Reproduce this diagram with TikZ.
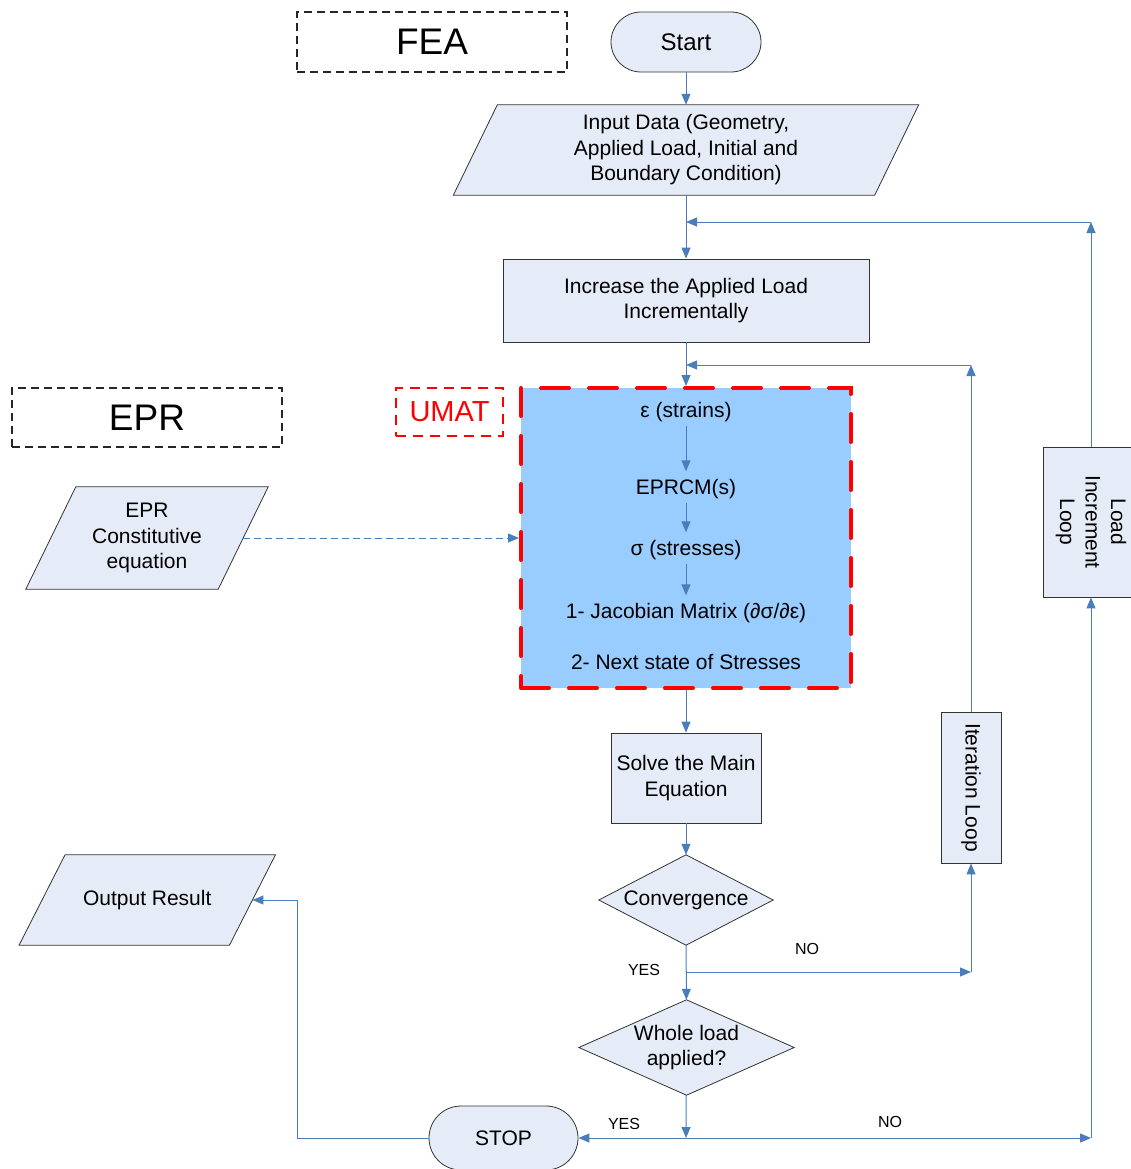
\documentclass[tikz,border=0pt]{standalone}
\usepackage{fontspec}
\setmainfont{Liberation Sans}
\usetikzlibrary{arrows.meta,backgrounds}
\definecolor{boxfill}{RGB}{230,236,247}
\definecolor{umatfill}{RGB}{153,204,255}
\definecolor{conn}{RGB}{74,126,187}
\definecolor{umred}{RGB}{255,0,0}
\begin{document}
\begin{tikzpicture}[x=1pt,y=-1pt,
  every node/.style={font=\fontsize{21}{25.5}\selectfont, inner sep=0pt},
  box/.style={draw=black!80, fill=boxfill, line width=0.8pt, align=center},
  shapefill/.style={draw=black!80, fill=boxfill, line width=0.8pt},
  txt/.style={align=center},
  ut/.style={inner xsep=0pt, inner ysep=3pt, text height=20pt, text depth=5pt},
  arr/.style={draw=conn, line width=1pt, -{Triangle[length=11pt,width=9pt]}},
  dbox/.style={draw=black!85, line width=1.3pt, dash pattern=on 8pt off 5pt, font=\fontsize{37}{40}\selectfont},
  lbl/.style={font=\fontsize{16}{19}\selectfont}
]
\useasboundingbox (0,0) rectangle (1131,1169);

% title boxes
\node[dbox, minimum width=270pt, minimum height=60pt] (fea) at (432,42) {FEA};
\node[dbox, minimum width=270pt, minimum height=59pt] (epr) at (147,417.5) {EPR};
\node[draw=umred, dash pattern=on 10pt off 7pt, line width=2.5pt, text=umred,
      minimum width=107pt, minimum height=48pt, font=\fontsize{29}{32}\selectfont] (umatlbl) at (449.5,412) {UMAT};

% main flow
\node[box, rounded corners=30pt, minimum width=150pt, minimum height=60pt, font=\fontsize{24}{28}\selectfont] (start) at (686,42) {Start};
\node[txt, minimum width=421pt, minimum height=90pt] (in) at (686,150) {Input Data (Geometry,\\Applied Load, Initial and\\Boundary Condition)};
\node[box, minimum width=366pt, minimum height=83pt] (inc) at (686,300.5) {Increase the Applied Load\\Incrementally};
\node[draw=umred, fill=umatfill, line width=4pt, dash pattern=on 28pt off 20pt, line cap=round,
      minimum width=330pt, minimum height=300pt] (umat) at (686,538) {};
\node[ut] (eps) at (686,410) {ε (strains)};
\node[ut] (eprcm) at (686,487) {EPRCM(s)};
\node[ut] (sig) at (686,548) {σ (stresses)};
\node[ut] (jac) at (686,611) {1- Jacobian Matrix (∂σ/∂ε)};
\node[ut] (nxt) at (686,662) {2- Next state of Stresses};
\node[box, minimum width=150pt, minimum height=90pt] (solve) at (686,778) {Solve the Main\\Equation};
\node[txt, minimum width=174pt, minimum height=90pt] (conv) at (686,900) {Convergence};
\node[txt, minimum width=215pt, minimum height=95pt] (whole) at (686.5,1047.5) {Whole load\\applied?};
\node[box, rounded corners=32pt, minimum width=149pt, minimum height=64pt] (stop) at (503.5,1138) {STOP};
\node[box, minimum width=151pt, minimum height=60pt, rotate=-90] (iter) at (971,787.5) {Iteration Loop};
\node[box, minimum width=150pt, minimum height=96pt, rotate=-90] (lic) at (1091,522) {Load\\Increment\\Loop};
\node[txt, minimum width=192pt, minimum height=102pt] (eprc) at (147,538) {EPR\\Constitutive\\equation};
\node[txt, minimum width=210pt, minimum height=90pt] (out) at (147.25,900) {Output Result};

% labels
\node[lbl] (no1) at (807,949) {NO};
\node[lbl] (yes1) at (644,970) {YES};
\node[lbl] (yes2) at (624,1124) {YES};
\node[lbl] (no2) at (890,1122) {NO};

% background shapes
\begin{scope}[on background layer]
  \path[shapefill] ([xshift=22pt]in.north west) -- ([xshift=22pt]in.north east) -- ([xshift=-22pt]in.south east) -- ([xshift=-22pt]in.south west) -- cycle;
  \path[shapefill] ([xshift=25pt]eprc.north west) -- ([xshift=25pt]eprc.north east) -- ([xshift=-25pt]eprc.south east) -- ([xshift=-25pt]eprc.south west) -- cycle;
  \path[shapefill] ([xshift=23pt]out.north west) -- ([xshift=23pt]out.north east) -- ([xshift=-23pt]out.south east) -- ([xshift=-23pt]out.south west) -- cycle;
  \path[shapefill] (conv.north) -- (conv.east) -- (conv.south) -- (conv.west) -- cycle;
  \path[shapefill] (whole.north) -- (whole.east) -- (whole.south) -- (whole.west) -- cycle;
\end{scope}

% coordinates
\coordinate (c1) at (1091,222);
\coordinate (c2) at (686,222);
\coordinate (c3) at (971,365);
\coordinate (c4) at (686,365);
\coordinate (c5) at (686,972);
\coordinate (c6) at (971,972);
\coordinate (c7) at (686,1138);
\coordinate (c8) at (1091,1138);
\coordinate (c9) at (297,1138);

% connectors
\draw[arr] (start) -- (in.north);
\draw[arr] (in.south) -- (inc);
\draw[arr] (lic) -- (c1);
\draw[arr] (c1) -- (c2);
\draw[arr] (inc) -- (umat);
\draw[arr] (iter) -- (c3);
\draw[arr] (c3) -- (c4);
\draw[arr, dash pattern=on 7pt off 4pt] (eprc) -- (umat);
\draw[arr] (eps) -- (eprcm);
\draw[arr] (eprcm) -- (sig);
\draw[arr] (sig) -- (jac);
\draw[arr] (umat) -- (solve);
\draw[arr] (solve) -- (conv);
\draw[arr] (conv) -- (whole);
\draw[arr] (c5) -- (c6);
\draw[arr] (c6) -- (iter);
\draw[arr] (whole) -- (c7);
\draw[arr] (c7) -- (stop);
\draw[arr] (c7) -- (c8);
\draw[arr] (c8) -- (lic);
\draw[arr] (stop) -- (c9) |- (out);
\end{tikzpicture}
\end{document}
